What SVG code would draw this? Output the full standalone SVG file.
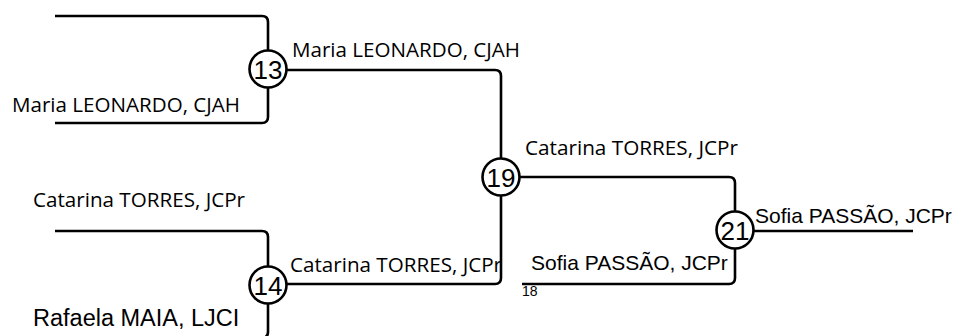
<svg xmlns="http://www.w3.org/2000/svg" width="955" height="336" viewBox="0 0 955 336">
<style>
.ln{fill:none;stroke:#000;stroke-width:2.6;stroke-linejoin:round}
.cir{fill:#fff;stroke:#000;stroke-width:2.6}
.num{font-family:"Liberation Sans",Arial,sans-serif;font-size:26px;fill:#000;text-anchor:middle}
.cal{font-family:"Open Sans","Noto Sans",sans-serif;font-size:20.5px;fill:#000}
.ari{font-family:"Liberation Sans",Arial,sans-serif;font-size:21px;fill:#000}
</style>
<rect width="955" height="336" fill="#fff"/>
<g id="connectors">
<path class="ln" d="M55,16 H262 Q268,16 268,22 V51"/>
<path class="ln" d="M55,123 H262 Q268,123 268,117 V87"/>
<path class="ln" d="M286,70 H495 Q501,70 501,76 V159"/>
<path class="ln" d="M55,231 H262 Q268,231 268,237 V267"/>
<path class="ln" d="M268,303 V332 Q268,338 262,338"/>
<path class="ln" d="M286,284 H495 Q501,284 501,278 V195"/>
<path class="ln" d="M519,177 H729 Q735,177 735,183 V212"/>
<path class="ln" d="M522,284 H729 Q735,284 735,278 V248"/>
<path class="ln" d="M753,231 H913"/>
</g>
<g id="n13"><circle class="cir" cx="268" cy="69" r="18.5"/><text class="num" x="268" y="78.5">13</text></g>
<g id="n14"><circle class="cir" cx="268" cy="285" r="18.5"/><text class="num" x="268" y="294.5">14</text></g>
<g id="n19"><circle class="cir" cx="501" cy="177" r="18.5"/><text class="num" x="501" y="186.5">19</text></g>
<g id="n21"><circle class="cir" cx="735" cy="230" r="18.5"/><text class="num" x="735" y="239.5">21</text></g>
<g id="labels">
<text class="cal" x="12" y="112" textLength="228" lengthAdjust="spacingAndGlyphs">Maria LEONARDO, CJAH</text>
<text class="cal" x="292" y="57" textLength="228" lengthAdjust="spacingAndGlyphs">Maria LEONARDO, CJAH</text>
<text class="cal" x="33" y="207" textLength="212" lengthAdjust="spacingAndGlyphs">Catarina TORRES, JCPr</text>
<text class="cal" x="290" y="272" textLength="212" lengthAdjust="spacingAndGlyphs">Catarina TORRES, JCPr</text>
<text class="cal" x="525" y="155" textLength="213" lengthAdjust="spacingAndGlyphs">Catarina TORRES, JCPr</text>
<text class="ari" x="755" y="223">Sofia PASSÃO, JCPr</text>
<text class="ari" x="531" y="270">Sofia PASSÃO, JCPr</text>
<text class="ari" x="33" y="326" style="font-size:23.5px">Rafaela MAIA, LJCI</text>
<text class="ari" x="522" y="296" style="font-size:14px">18</text>
</g>
</svg>
